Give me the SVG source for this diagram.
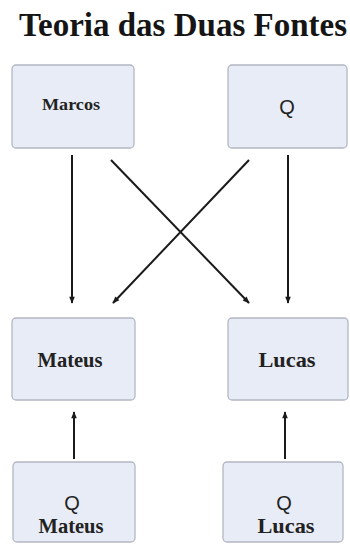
<svg xmlns="http://www.w3.org/2000/svg" width="350" height="544" viewBox="0 0 350 544">
<defs>
<marker id="ah" viewBox="0 0 10 10" refX="9" refY="5" markerWidth="8" markerHeight="7" markerUnits="userSpaceOnUse" orient="auto">
<path d="M0,1 L10,5 L0,9 z" fill="#1a1a1a"/>
</marker>
</defs>
<style>
.box{fill:#e8ecf6;stroke:#b3b7c2;stroke-width:1.3}
.serif{font-family:"Liberation Serif","Times New Roman",serif;font-weight:bold;fill:#222;text-anchor:middle}
.sans{font-family:"Liberation Sans",Arial,sans-serif;fill:#222;text-anchor:middle}
.edge{stroke:#1a1a1a;stroke-width:2;fill:none;marker-end:url(#ah)}
</style>
<rect width="350" height="544" fill="#fff"/>
<text x="183" y="36" class="serif" font-size="33" textLength="328" lengthAdjust="spacingAndGlyphs" style="fill:#151515">Teoria das Duas Fontes</text>
<g id="marcos"><rect class="box" x="12" y="65" width="122" height="83" rx="4"/><text x="71" y="110" class="serif" font-size="17" textLength="58" lengthAdjust="spacingAndGlyphs">Marcos</text></g>
<g id="q"><rect class="box" x="228" y="65" width="119" height="83" rx="4"/><text x="287" y="114" class="sans" font-size="20">Q</text></g>
<g id="mateus"><rect class="box" x="12" y="318" width="123" height="82" rx="4"/><text x="70" y="367" class="serif" font-size="20" textLength="65" lengthAdjust="spacingAndGlyphs">Mateus</text></g>
<g id="lucas"><rect class="box" x="228" y="318" width="120" height="82" rx="4"/><text x="287" y="367" class="serif" font-size="21" textLength="57" lengthAdjust="spacingAndGlyphs">Lucas</text></g>
<g id="qmateus"><rect class="box" x="13" y="462" width="122" height="80" rx="4"/><text x="72" y="510" class="sans" font-size="20">Q</text><text x="71" y="533" class="serif" font-size="20" textLength="65" lengthAdjust="spacingAndGlyphs">Mateus</text></g>
<g id="qlucas"><rect class="box" x="223" y="462" width="120" height="80" rx="4"/><text x="284" y="510" class="sans" font-size="20">Q</text><text x="286" y="533" class="serif" font-size="21" textLength="57" lengthAdjust="spacingAndGlyphs">Lucas</text></g>
<g id="edges">
<line class="edge" x1="72" y1="155" x2="72" y2="303"/>
<line class="edge" x1="288" y1="155" x2="288" y2="303"/>
<line class="edge" x1="111" y1="160" x2="249" y2="303"/>
<line class="edge" x1="249" y1="160" x2="113" y2="303"/>
<line class="edge" x1="74" y1="459" x2="74" y2="412"/>
<line class="edge" x1="285" y1="459" x2="285" y2="412"/>
</g>
</svg>
